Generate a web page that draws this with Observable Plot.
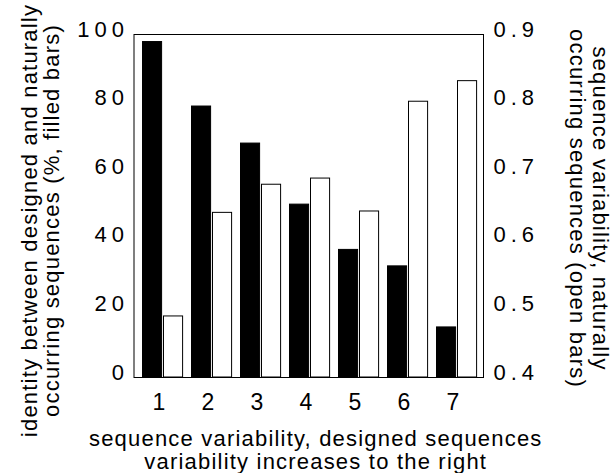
<!DOCTYPE html>
<html>
<head>
<meta charset="utf-8">
<script src="https://cdn.jsdelivr.net/npm/d3@7"></script>
<script src="https://cdn.jsdelivr.net/npm/@observablehq/plot@0.6"></script>
<style>
  html, body { margin: 0; padding: 0; background: #fff; }
  #chart svg { font-family: "Liberation Sans", Arial, sans-serif; }
  g[aria-label="y-axis tick label"] text { letter-spacing: 5px; }
  .rticks text { letter-spacing: 3.5px; }
  .title text { letter-spacing: 1.2px; }
</style>
</head>
<body>
<div id="chart"></div>
<script>
// ---- data ----
const categories = [1, 2, 3, 4, 5, 6, 7];
// identity between designed and naturally occurring sequences (%, filled bars)
const identity = [97.8, 79, 68.2, 50.4, 37.2, 32.4, 14.6];
// sequence variability, naturally occurring sequences (open bars)
const naturalVariability = [0.489, 0.640, 0.681, 0.690, 0.642, 0.802, 0.832];
const leftTicks = [0, 20, 40, 60, 80, 100];
const rightTicks = [0.4, 0.5, 0.6, 0.7, 0.8, 0.9];

const xTitle = "sequence variability, designed sequences\nvariability increases to the right";
const leftTitle = "identity between designed and naturally\noccurring sequences (%, filled bars)";
const rightTitle = "sequence variability, naturally\noccurring sequences (open bars)";

// map the right (open bar) axis onto the left scale
const rMin = rightTicks[0], rMax = rightTicks[rightTicks.length - 1];
const lMin = leftTicks[0], lMax = leftTicks[leftTicks.length - 1];
const toLeft = v => lMin + (v - rMin) / (rMax - rMin) * (lMax - lMin);

const filled = categories.map((c, i) => ({cat: c, v: identity[i]}));
const open = categories.map((c, i) => ({cat: c, v: toLeft(naturalVariability[i])}));

const chart = Plot.plot({
  width: 612,
  height: 473,
  marginLeft: 133.5,
  marginRight: 129,
  marginTop: 34,
  marginBottom: 96,
  style: {fontFamily: '"Liberation Sans", Arial, sans-serif', background: "#fff"},
  x: {type: "band", domain: categories, padding: 0},
  y: {domain: [lMin, lMax]},
  marks: [
    Plot.barY(filled, {x: "cat", y: "v", fill: "black", stroke: "black", strokeWidth: 1, insetLeft: 5.5, insetRight: 24.4}),
    Plot.barY(open, {x: "cat", y1: lMin, y2: "v", fill: "white", stroke: "black", strokeWidth: 1, insetLeft: 26.5, insetRight: 3.4}),
    Plot.frame({stroke: "black", strokeWidth: 1}),
    Plot.axisY({anchor: "left", ticks: leftTicks, tickSize: 0, tickPadding: 5, fontSize: 22, dy: -5, label: null}),
    Plot.axisY({anchor: "right", ticks: rightTicks.map(toLeft), tickSize: 0, tickPadding: 10, fontSize: 22, dy: -5, label: null, className: "rticks",
      tickFormat: d => rightTicks[rightTicks.map(toLeft).indexOf(d)].toFixed(1)}),
    Plot.axisX({ticks: categories, tickSize: 0, tickPadding: 16, fontSize: 23, dx: -3, label: null}),
    Plot.text([xTitle], {frameAnchor: "bottom", lineAnchor: "top", textAnchor: "middle", dx: 7, dy: 52, fontSize: 22, lineHeight: 1.05, className: "title"}),
    Plot.text([leftTitle], {frameAnchor: "left", lineAnchor: "top", textAnchor: "middle", rotate: -90, dx: -113, dy: 14.5, fontSize: 22, lineHeight: 1, className: "title"}),
    Plot.text([rightTitle], {frameAnchor: "right", lineAnchor: "top", textAnchor: "middle", rotate: 90, dx: 126, dy: 2.5, fontSize: 22, lineHeight: 1.05, className: "title"})
  ]
});
document.getElementById("chart").appendChild(chart);
</script>
</body>
</html>
